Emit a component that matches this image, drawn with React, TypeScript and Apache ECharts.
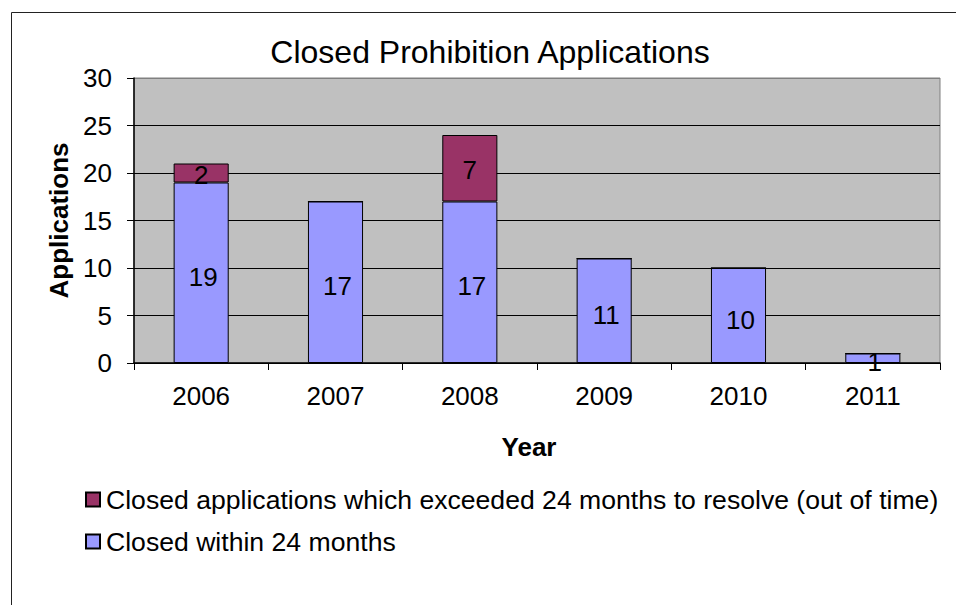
import React, { useEffect, useRef } from "react";
import * as echarts from "echarts";

const categories = ["2006", "2007", "2008", "2009", "2010", "2011"];
const withinValues = [19, 17, 17, 11, 10, 1];
const exceededValues = [2, 0, 7, 0, 0, 0];
const yTicks = [0, 5, 10, 15, 20, 25, 30];

const seriesNames = {
  exceeded: "Closed applications which exceeded 24 months to resolve (out of time)",
  within: "Closed within 24 months",
};

const FONT = "'Liberation Sans', Arial, sans-serif";

export default function App() {
  const ref = useRef<HTMLDivElement>(null);
  useEffect(() => {
    if (!ref.current) return;
    const chart = echarts.init(ref.current, undefined, { renderer: "svg" });
    const labelFmt = (p: any) => (p.value ? String(p.value) : "");
    chart.setOption({
      animation: false,
      backgroundColor: "#ffffff",
      textStyle: { fontFamily: FONT },
      title: {
        text: "Closed Prohibition Applications",
        left: 490,
        top: 36,
        padding: 0,
        textAlign: "center",
        textStyle: { fontSize: 32, fontWeight: "normal", color: "#000", fontFamily: FONT },
      },
      graphic: [
        {
          type: "rect",
          shape: { x: 11.5, y: 12.5, width: 1000, height: 1000 },
          style: { fill: "none", stroke: "#222", lineWidth: 1 },
          z: -1,
          silent: true,
        },
        {
          type: "text",
          x: 529,
          y: 447,
          style: {
            text: "Year",
            fontSize: 26,
            fontWeight: "bold",
            fill: "#000",
            fontFamily: FONT,
            align: "center",
            verticalAlign: "middle",
          },
        },
      ],
      legend: {
        orient: "vertical",
        left: 85,
        top: 486,
        padding: 0,
        icon: "rect",
        itemWidth: 14,
        itemHeight: 14,
        itemGap: 15,
        data: [seriesNames.exceeded, seriesNames.within],
        textStyle: { fontSize: 26.6, color: "#000", fontFamily: FONT, padding: [0, 0, 0, 1] },
      },
      grid: {
        left: 134,
        top: 78,
        right: 16,
        bottom: 242,
        show: true,
        backgroundColor: "#C0C0C0",
        borderColor: "#808080",
        borderWidth: 1,
      },
      xAxis: {
        type: "category",
        data: categories,
        boundaryGap: true,
        axisLine: { lineStyle: { color: "#000", width: 1.5 } },
        axisTick: { show: true, length: 7, lineStyle: { color: "#000" } },
        axisLabel: { fontSize: 26, color: "#000", margin: 20, fontFamily: FONT },
      },
      yAxis: {
        type: "value",
        min: yTicks[0],
        max: yTicks[yTicks.length - 1],
        interval: 5,
        name: "Applications",
        nameLocation: "middle",
        nameGap: 55,
        nameTextStyle: { fontSize: 26, fontWeight: "bold", color: "#000", fontFamily: FONT },
        axisLine: { show: true, lineStyle: { color: "#000", width: 1.5 } },
        axisTick: { show: true, length: 7, lineStyle: { color: "#000" } },
        axisLabel: { fontSize: 26, color: "#000", margin: 22, fontFamily: FONT },
        splitLine: {
          show: true,
          lineStyle: { color: ["#000", "#000", "#000", "#000", "#000", "#000", "#808080"], width: 1 },
        },
      },
      series: [
        {
          name: seriesNames.within,
          type: "bar",
          stack: "total",
          barWidth: "41%",
          data: withinValues,
          itemStyle: { color: "#9999FF", borderColor: "#000", borderWidth: 1 },
          label: {
            show: true,
            position: "inside",
            formatter: labelFmt,
            fontSize: 26,
            color: "#000",
            fontFamily: FONT,
            offset: [2, 4],
          },
        },
        {
          name: seriesNames.exceeded,
          type: "bar",
          stack: "total",
          barWidth: "41%",
          data: exceededValues,
          itemStyle: { color: "#993366", borderColor: "#000", borderWidth: 1 },
          label: {
            show: true,
            position: "inside",
            formatter: labelFmt,
            fontSize: 26,
            color: "#000",
            fontFamily: FONT,
            offset: [0, 2],
          },
        },
      ],
    });
    return () => chart.dispose();
  }, []);
  return (
    <div
      ref={ref}
      style={{ position: "fixed", left: 0, top: 0, width: 956, height: 605 }}
    />
  );
}
